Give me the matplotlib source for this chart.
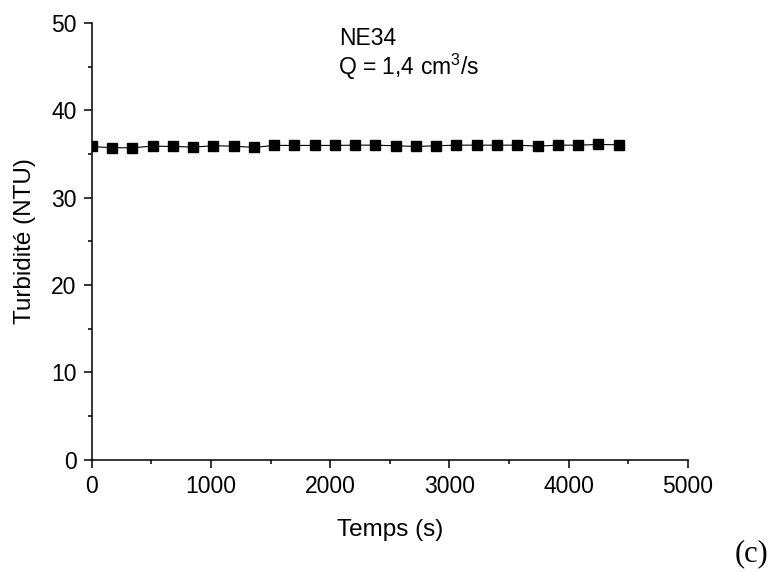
import matplotlib
matplotlib.use("Agg")
import matplotlib.pyplot as plt
from matplotlib.ticker import MultipleLocator

# data
temps = [0, 170, 340, 510, 680, 850, 1020, 1190, 1360, 1530, 1700, 1870, 2040, 2210,
         2380, 2550, 2720, 2890, 3060, 3230, 3400, 3570, 3740, 3910, 4080, 4250, 4420]
turbidite = [35.86, 35.71, 35.71, 35.90, 35.86, 35.79, 35.94, 35.90, 35.75, 35.98,
             35.98, 35.98, 35.98, 36.01, 36.01, 35.94, 35.86, 35.94, 36.01, 36.01,
             36.01, 36.01, 35.90, 36.01, 36.01, 36.09, 36.05]

plt.rcParams['font.family'] = ['Liberation Sans', 'DejaVu Sans']

fig = plt.figure(figsize=(7.71, 5.72), dpi=100)
ax = fig.add_axes([0.119, 0.196, 0.773, 0.764])

ax.plot(temps, turbidite, color='black', linewidth=0.8,
        marker='s', markersize=6.8, markerfacecolor='black', markeredgecolor='black')

ax.set_xlim(0, 5000)
ax.set_ylim(0, 50)
ax.xaxis.set_major_locator(MultipleLocator(1000))
ax.xaxis.set_minor_locator(MultipleLocator(500))
ax.yaxis.set_major_locator(MultipleLocator(10))
ax.yaxis.set_minor_locator(MultipleLocator(5))

for s in ['top', 'right']:
    ax.spines[s].set_visible(False)
for s in ['left', 'bottom']:
    ax.spines[s].set_linewidth(1.1)

ax.tick_params(which='major', direction='out', length=6, width=1.1, labelsize=16.5, pad=5)
ax.tick_params(which='minor', direction='out', length=3, width=1.1)

ax.set_xlabel('Temps (s)', fontsize=17.5, labelpad=15)
ax.set_ylabel('Turbidité (NTU)', fontsize=17.5, labelpad=11)

fig.text(339 / 771, 1 - 45 / 572, 'NE34', fontsize=16.5, ha='left', va='baseline')
fig.text(338 / 771, 1 - 75 / 572, r'Q = 1,4 cm$^{\mathregular{3}}$/s', fontsize=16.5,
         ha='left', va='baseline')
fig.text(751 / 771, 1 - 554 / 572, '(c)', fontsize=22, family='Liberation Serif',
         ha='center', va='center')

fig.savefig('out.png', dpi=100)
